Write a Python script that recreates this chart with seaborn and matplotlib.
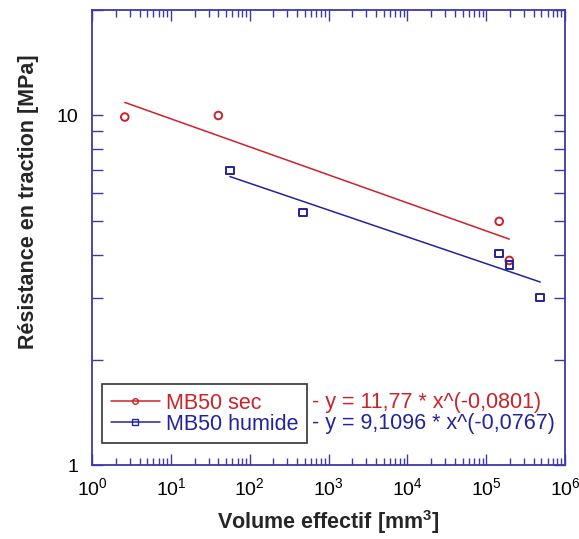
import pandas as pd
import seaborn as sns
import matplotlib.pyplot as plt
from matplotlib.lines import Line2D
from matplotlib.ticker import LogLocator, NullFormatter, FixedLocator, FixedFormatter

# measured points
sec_x = [2.6, 40, 146000, 196000]
sec_y = [9.9, 10.0, 4.98, 3.85]
hum_x = [56, 477, 146000, 196000, 484000]
hum_y = [6.96, 5.28, 4.03, 3.73, 3.02]

# power-law fit lines (end points)
sec_fit_x = [2.6, 196000]
sec_fit_y = [10.9, 4.43]
hum_fit_x = [56, 484000]
hum_fit_y = [6.69, 3.34]

labels = ["MB50 sec", "MB50 humide"]
equations = ["y = 11,77 * x^(-0,0801)", "y = 9,1096 * x^(-0,0767)"]

RED = "#cc2229"
BLUE = "#23239a"
FRAME = "#3a3aa8"
FS = 15.5
TICK_FS = 14

sns.set_style("white")
plt.rcParams["font.family"] = ["Liberation Sans", "DejaVu Sans"]
plt.rcParams["mathtext.fontset"] = "custom"
plt.rcParams["mathtext.rm"] = "Liberation Sans"
plt.rcParams["mathtext.bf"] = "Liberation Sans:bold"

fig = plt.figure(figsize=(5.79, 5.39), dpi=100)
ax = fig.add_axes([0.159, 0.137, 0.817, 0.844])

pts = pd.DataFrame({"x": sec_x + hum_x,
                    "y": sec_y + hum_y,
                    "serie": [labels[0]] * len(sec_x) + [labels[1]] * len(hum_x)})
fits = pd.DataFrame({"x": sec_fit_x + hum_fit_x,
                     "y": sec_fit_y + hum_fit_y,
                     "serie": [labels[0]] * 2 + [labels[1]] * 2})
pal = {labels[0]: RED, labels[1]: BLUE}

sns.lineplot(data=fits, x="x", y="y", hue="serie", palette=pal, ax=ax,
             linewidth=1.1, legend=False, estimator=None, sort=False)
sns.scatterplot(data=pts, x="x", y="y", hue="serie", style="serie",
                markers={labels[0]: "o", labels[1]: "s"}, palette=pal, ax=ax,
                s=30, linewidth=1.4, legend=False)
# open markers: edge takes the series colour
for coll in ax.collections:
    fc = coll.get_facecolors()
    coll.set_edgecolors(fc)
    coll.set_facecolors("none")

ax.set_xscale("log")
ax.set_yscale("log")
ax.set_xlim(1, 1e6)
ax.set_ylim(1, 20)

ax.xaxis.set_major_locator(LogLocator(base=10, numticks=10))
ax.xaxis.set_minor_locator(LogLocator(base=10, subs=range(2, 10), numticks=100))
ax.xaxis.set_minor_formatter(NullFormatter())
ax.yaxis.set_major_locator(FixedLocator([1, 10]))
ax.yaxis.set_major_formatter(FixedFormatter(["1", "10"]))
ax.yaxis.set_minor_locator(FixedLocator([2, 3, 4, 5, 6, 7, 8, 9, 20]))
ax.yaxis.set_minor_formatter(NullFormatter())

ax.tick_params(which="both", direction="in", top=True, right=True, left=True, bottom=True,
               color=FRAME, labelsize=TICK_FS, labelcolor="black")
ax.tick_params(axis="x", pad=9)
ax.tick_params(axis="y", pad=10)
ax.tick_params(which="major", length=8, width=1)
ax.tick_params(which="minor", length=5, width=1)
ax.tick_params(axis="y", which="minor", length=8)
for sp in ax.spines.values():
    sp.set_color(FRAME)
    sp.set_linewidth(1.3)

ax.set_xlabel("Volume effectif [mm$^\\mathbf{3}$]", fontsize=FS, fontweight="bold", labelpad=6)
ax.set_ylabel("Résistance en traction [MPa]", fontsize=FS, fontweight="bold")
ax.yaxis.set_label_coords(-0.113, 0.58)

handles = [Line2D([], [], color=RED, marker="o", markersize=4, markerfacecolor="none", linewidth=1.1),
           Line2D([], [], color=BLUE, marker="s", markersize=4, markerfacecolor="none", linewidth=1.1)]
leg = ax.legend(handles, labels, loc="lower left", bbox_to_anchor=(0.021, 0.048),
                fontsize=FS, frameon=True, fancybox=False, handlelength=2.3,
                handletextpad=0.25, borderpad=0.4, labelspacing=0.0,
                labelcolor=[RED, BLUE], borderaxespad=0)
leg.get_frame().set_edgecolor("black")
leg.get_frame().set_linewidth(1.2)

ax.text(0.465, 0.138, "- " + equations[0], transform=ax.transAxes, color=RED,
        fontsize=FS, va="center", ha="left")
ax.text(0.465, 0.092, "- " + equations[1], transform=ax.transAxes, color=BLUE,
        fontsize=FS, va="center", ha="left")

fig.savefig("out.png", dpi=100)
